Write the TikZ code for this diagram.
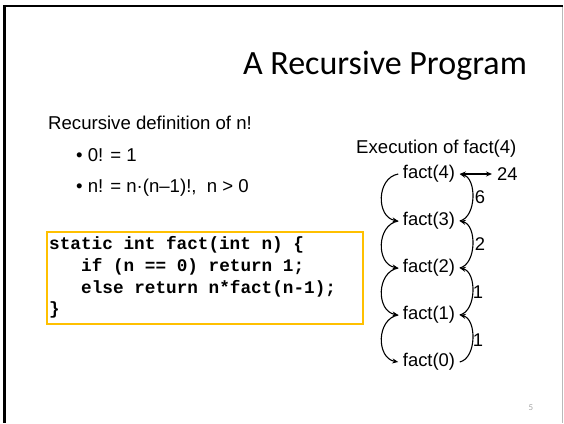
\documentclass[tikz,border=0pt]{standalone}
\usepackage{fontspec}
\setmainfont{Liberation Sans}
\newfontfamily\titlefont{Carlito}
\newfontfamily\codefont{Liberation Mono}
\usetikzlibrary{arrows.meta}
\definecolor{codeorange}{RGB}{255,192,0}
\tikzset{
  txt/.style={inner sep=0pt, anchor=base west, font=\fontsize{18.6}{22}\selectfont},
  code/.style={inner sep=0pt, anchor=base west, font=\codefont\bfseries\fontsize{17.7}{22}\selectfont},
  factnode/.style={inner xsep=4.5pt, inner ysep=0pt, font=\fontsize{18.4}{22}\selectfont, text height=13pt, text depth=4pt},
  lbl/.style={inner sep=0pt, font=\fontsize{18.4}{22}\selectfont},
  callarrow/.style={line width=1.1pt, -{Stealth[length=6pt,width=5pt]}},
}
\begin{document}
\begin{tikzpicture}[x=1pt,y=-1pt]
\useasboundingbox (0,0) rectangle (564,423);
% slide frame
\draw[black, line width=2.5pt] (3,6) -- (563,6);
\draw[black, line width=3pt] (4.5,4.8) -- (4.5,423);
\draw[gray!55, line width=0.8pt] (562.5,7.2) -- (562.5,423);
% title
\node[inner sep=0pt, anchor=base east, font=\titlefont\fontsize{34}{40}\selectfont] (title) at (527,74) {A Recursive Program};
% definition
\node[txt] (defn) at (48,129) {Recursive definition of n!};
\node[txt] (b1) at (76,161) {\textbullet\ 0! = 1};
\node[txt] (b2) at (76,192.5) {\textbullet\ n! = n·(n–1)!,\ \ n > 0};
% code box
\node[draw=codeorange, line width=2pt, minimum width=316pt, minimum height=92pt, anchor=north west, inner sep=0pt] (codebox) at (45.5,231) {};
\node[code] (c1) at (49,249) {static int fact(int n) \{};
\node[code] (c2) at (81,271) {if (n == 0) return 1;};
\node[code] (c3) at (81,293) {else return n*fact(n-1);};
\node[code] (c4) at (49,314) {\}};
% execution
\node[txt] (exec) at (356,153) {Execution of fact(4)};
\node[factnode] (f4) at (429,174) {fact(4)};
\node[factnode] (f3) at (429,221) {fact(3)};
\node[factnode] (f2) at (429,268) {fact(2)};
\node[factnode] (f1) at (429,315) {fact(1)};
\node[factnode] (f0) at (429,362) {fact(0)};
\node[lbl, anchor=west, inner xsep=5pt] (res) at (492,174) {24};
\draw[line width=1.1pt, {Stealth[length=6pt,width=5pt]}-{Stealth[length=6pt,width=5pt]}] (f4.east) -- (res.west);
% calls (left side)
\draw[callarrow] (f4.west) .. controls +(-22,4) and +(-22,-4) .. (f3.west);
\draw[callarrow] (f3.west) .. controls +(-22,4) and +(-22,-4) .. (f2.west);
\draw[callarrow] (f2.west) .. controls +(-22,4) and +(-22,-4) .. (f1.west);
\draw[callarrow] (f1.west) .. controls +(-22,4) and +(-22,-4) .. (f0.west);
% returns (right side)
\draw[callarrow] (f3.east) .. controls +(17,-4) and +(17,4) .. (f4.east);
\draw[callarrow] (f2.east) .. controls +(17,-4) and +(17,4) .. (f3.east);
\draw[callarrow] (f1.east) .. controls +(17,-4) and +(17,4) .. (f2.east);
\draw[callarrow] (f0.east) .. controls +(17,-4) and +(17,4) .. (f1.east);
\node[lbl] (r6) at (480,197) {6};
\node[lbl] (r2) at (480,244) {2};
\node[lbl] (r1a) at (478,292) {1};
\node[lbl] (r1b) at (478,340) {1};
% page number
\node[inner sep=0pt, text=gray!70, font=\titlefont\fontsize{9}{10}\selectfont] (pg) at (531,408) {5};
\end{tikzpicture}
\end{document}
